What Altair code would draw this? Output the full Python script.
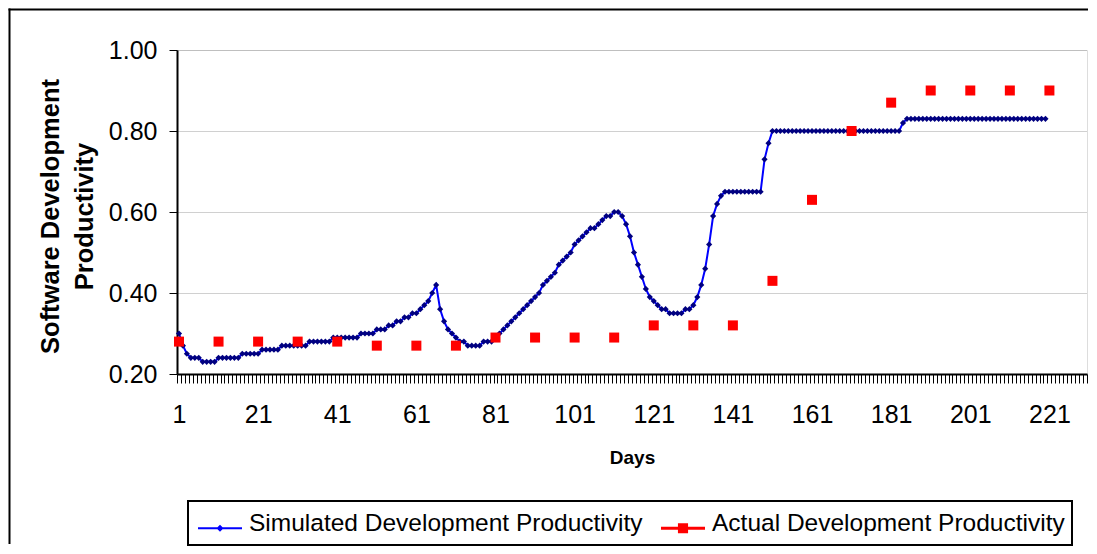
import altair as alt
import pandas as pd

# ---------------- data ----------------
sim_days = list(range(1, 221))
sim_values = [
    0.30, 0.27, 0.25, 0.24, 0.24, 0.24, 0.23, 0.23, 0.23, 0.23,   # 1-10
    0.24, 0.24, 0.24, 0.24, 0.24, 0.24, 0.25, 0.25, 0.25, 0.25,   # 11-20
    0.25, 0.26, 0.26, 0.26, 0.26, 0.26, 0.27, 0.27, 0.27, 0.27,   # 21-30
    0.27, 0.27, 0.27, 0.28, 0.28, 0.28, 0.28, 0.28, 0.28, 0.29,   # 31-40
    0.29, 0.29, 0.29, 0.29, 0.29, 0.29, 0.30, 0.30, 0.30, 0.30,   # 41-50
    0.31, 0.31, 0.31, 0.32, 0.32, 0.33, 0.33, 0.34, 0.34, 0.35,   # 51-60
    0.35, 0.36, 0.37, 0.38, 0.40, 0.42, 0.36, 0.33, 0.31, 0.30,   # 61-70
    0.29, 0.28, 0.28, 0.27, 0.27, 0.27, 0.27, 0.28, 0.28, 0.28,   # 71-80
    0.29, 0.30, 0.31, 0.32, 0.33, 0.34, 0.35, 0.36, 0.37, 0.38,   # 81-90
    0.39, 0.40, 0.42, 0.43, 0.44, 0.45, 0.47, 0.48, 0.49, 0.50,   # 91-100
    0.52, 0.53, 0.54, 0.55, 0.56, 0.56, 0.57, 0.58, 0.59, 0.59,   # 101-110
    0.60, 0.60, 0.59, 0.57, 0.54, 0.50, 0.47, 0.44, 0.41, 0.39,   # 111-120
    0.38, 0.37, 0.36, 0.36, 0.35, 0.35, 0.35, 0.35, 0.36, 0.36,   # 121-130
    0.37, 0.39, 0.42, 0.46, 0.52, 0.59, 0.62, 0.64, 0.65, 0.65,   # 131-140
    0.65, 0.65, 0.65, 0.65, 0.65, 0.65, 0.65, 0.65, 0.73, 0.77,   # 141-150
    0.80, 0.80, 0.80, 0.80, 0.80, 0.80, 0.80, 0.80, 0.80, 0.80,   # 151-160
    0.80, 0.80, 0.80, 0.80, 0.80, 0.80, 0.80, 0.80, 0.80, 0.80,   # 161-170
    0.80, 0.80, 0.80, 0.80, 0.80, 0.80, 0.80, 0.80, 0.80, 0.80,   # 171-180
    0.80, 0.80, 0.80, 0.82, 0.83, 0.83, 0.83, 0.83, 0.83, 0.83,   # 181-190
    0.83, 0.83, 0.83, 0.83, 0.83, 0.83, 0.83, 0.83, 0.83, 0.83,   # 191-200
    0.83, 0.83, 0.83, 0.83, 0.83, 0.83, 0.83, 0.83, 0.83, 0.83,   # 201-210
    0.83, 0.83, 0.83, 0.83, 0.83, 0.83, 0.83, 0.83, 0.83, 0.83,   # 211-220
]
actual_days = [1, 11, 21, 31, 41, 51, 61, 71, 81, 91, 101, 111, 121, 131,
               141, 151, 161, 171, 181, 191, 201, 211, 221]
actual_values = [0.28, 0.28, 0.28, 0.28, 0.28, 0.27, 0.27, 0.27, 0.29, 0.29,
                 0.29, 0.29, 0.32, 0.32, 0.32, 0.43, 0.63, 0.80, 0.87, 0.90,
                 0.90, 0.90, 0.90]
x_tick_labels = [1, 21, 41, 61, 81, 101, 121, 141, 161, 181, 201, 221]
y_tick_values = [0.2, 0.4, 0.6, 0.8, 1.0]
n_categories = 230
series_names = ["Simulated Development Productivity",
                "Actual Development Productivity"]
series_colors = ["#0000ff", "#ff0000"]

sim_df = pd.DataFrame({"day": sim_days, "value": sim_values})
act_df = pd.DataFrame({"day": actual_days, "value": actual_values})
legend_df = pd.DataFrame({"series": series_names})
one_row = pd.DataFrame({"k": [0]})
top_row = pd.DataFrame({"edge": ["top"]})

FONT = "Liberation Sans"

# ---------------- scales / axes ----------------
x_scale = alt.Scale(domain=[0.5, n_categories + 0.5], nice=False, zero=False)
y_scale = alt.Scale(domain=[y_tick_values[0], y_tick_values[-1]], nice=False, zero=False)

boundary_ticks = [i + 0.5 for i in range(0, n_categories + 1)]
label_expr = ("indexof([" + ",".join(str(v) for v in x_tick_labels) +
              "], round(datum.value + 0.5)) >= 0 ? format(datum.value + 0.5, 'd') : ''")

x_axis = alt.Axis(
    values=boundary_ticks, labelExpr=label_expr, labelOverlap=False,
    labelBound=False, labelFlush=False, labelOffset=2,
    tickSize=9, tickColor="black", tickWidth=1,
    domainColor="black", domainWidth=2, grid=False,
    labelFont=FONT, labelFontSize=25, labelColor="black", labelPadding=19,
    labelBaseline="top",
    title="Days", titleFont=FONT, titleFontSize=19, titleFontWeight="bold",
    titleColor="black", titleY=89, titleBaseline="alphabetic",
)
y_axis = alt.Axis(
    values=y_tick_values, format=".2f",
    tickSize=8, tickColor="black", tickWidth=1,
    domainColor="black", domainWidth=2,
    grid=True, gridColor="#a0a0a0", gridDash=[1, 1], gridWidth=1,
    labelFont=FONT, labelFontSize=25, labelColor="black", labelPadding=12,
    title=["Software Development", "Productivity"], titleFont=FONT,
    titleFontSize=25.5, titleFontWeight="bold", titleColor="black",
    titleX=-119, titleY=166, titleAngle=270, titleAlign="center",
    titleBaseline="alphabetic", titleLineHeight=34,
)

x_enc = alt.X("day:Q", scale=x_scale, axis=x_axis)
y_enc = alt.Y("value:Q", scale=y_scale, axis=y_axis)

# ---------------- layers ----------------
# outer chart-area border (left and top edges)
frame_left = alt.Chart(one_row).mark_rect(color="black").encode(
    x=alt.value(-168.5), x2=alt.value(-166.5), y=alt.value(-41.5), y2=alt.value(494))
frame_top = alt.Chart(top_row).mark_rect(color="black").encode(
    x=alt.value(-168.5), x2=alt.value(911), y=alt.value(-41.5), y2=alt.value(-39.5))

legend_box = alt.Chart(one_row).mark_rect(
    fill="white", stroke="black", strokeWidth=2
).encode(x=alt.value(11), x2=alt.value(895), y=alt.value(451), y2=alt.value(495))

sim_line = alt.Chart(sim_df).mark_line(color="#0000ff", strokeWidth=2).encode(
    x=x_enc, y=y_enc)
sim_pts = alt.Chart(sim_df).mark_point(
    shape="diamond", filled=True, color="#000080", size=38, opacity=1
).encode(x=x_enc, y=y_enc)
act_pts = alt.Chart(act_df).mark_point(
    shape="square", filled=True, color="#ff0000", size=100, opacity=1
).encode(x=x_enc, y=y_enc)

path_sim = ("M-1,0.135L1,0.135L1,0.225L-1,0.225Z "
            "M0,0.02L0.16,0.18L0,0.34L-0.16,0.18Z")
path_act = ("M-1,0.11L1,0.11L1,0.25L-1,0.25Z "
            "M-0.23,-0.05L0.23,-0.05L0.23,0.41L-0.23,0.41Z")

leg = alt.Legend(
    orient="none", legendX=21, legendY=452, direction="horizontal",
    title=None, symbolSize=1936, symbolStrokeWidth=0,
    labelFont=FONT, labelFontSize=24.5, labelColor="black",
    labelOffset=7, columnPadding=18, padding=0, labelLimit=1000,
)
legend_layer = alt.Chart(legend_df).mark_point(
    filled=True, opacity=1, clip=True
).encode(
    x=alt.value(-3000), y=alt.value(-3000),
    color=alt.Color("series:N", scale=alt.Scale(domain=series_names, range=series_colors), legend=leg),
    shape=alt.Shape("series:N", scale=alt.Scale(domain=series_names, range=[path_sim, path_act]), legend=leg),
)

chart = alt.layer(frame_left, frame_top, legend_box, sim_line, sim_pts, act_pts, legend_layer).properties(
    width=910, height=324,
    padding={"left": 169, "top": 42, "right": 2, "bottom": 172},
    autosize=alt.AutoSizeParams(type="none"),
).configure_view(strokeWidth=0).configure(background="white", font=FONT)

chart.save("out.html", embed_options={"renderer": "svg", "actions": False})
